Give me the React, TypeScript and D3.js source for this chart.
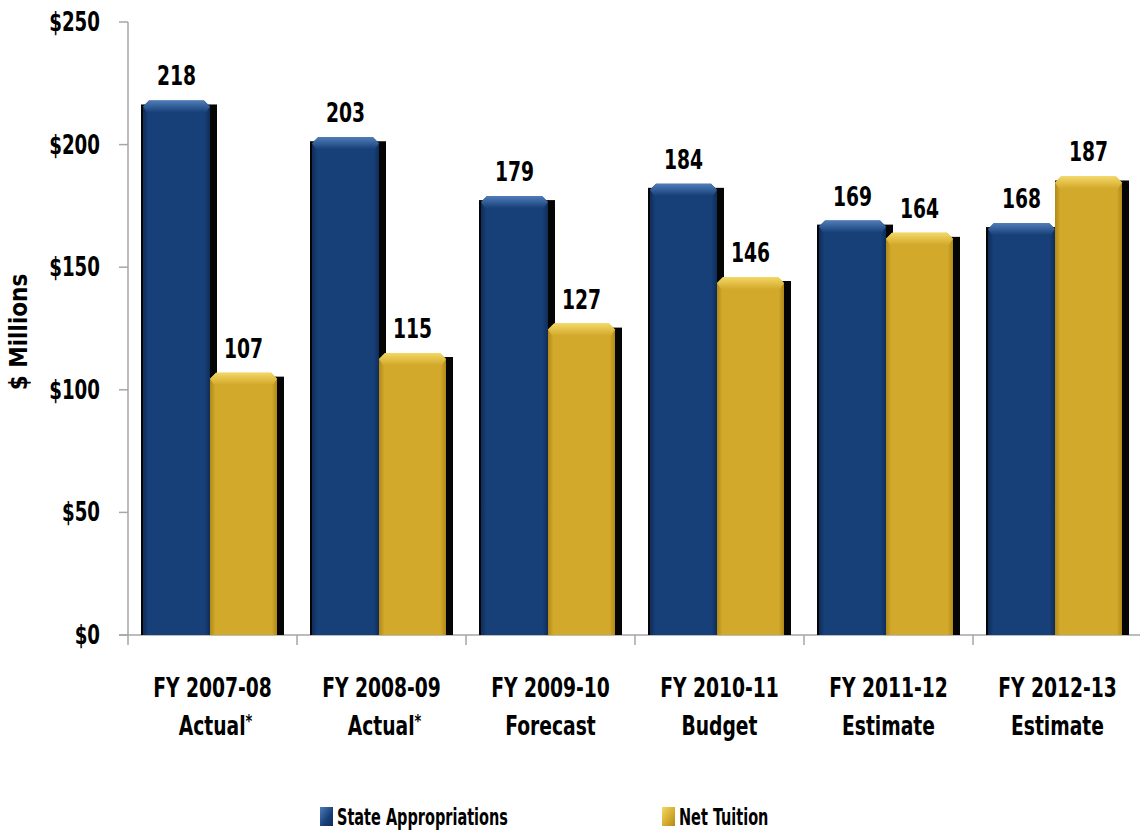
import React, { useRef, useEffect } from 'react';
import * as d3 from 'd3';

// categories (two-line labels)
const categoryTop = ['FY 2007-08', 'FY 2008-09', 'FY 2009-10', 'FY 2010-11', 'FY 2011-12', 'FY 2012-13'];
const categoryBottom = ['Actual', 'Actual', 'Forecast', 'Budget', 'Estimate', 'Estimate'];
const categoryStar = [true, true, false, false, false, false];

const seriesNames = ['State Appropriations', 'Net Tuition'];
const stateAppropriations = [218, 203, 179, 184, 169, 168];
const netTuition = [107, 115, 127, 146, 164, 187];

const yTicks = [0, 50, 100, 150, 200, 250];

const FONT = '"Liberation Sans Narrow", "Arial Narrow", "DejaVu Sans Condensed", sans-serif';

const palette = [
  { base: '#173f78', light: '#4f7db9', dark: '#0f2d58' },
  { base: '#d3a92b', light: '#f3d865', dark: '#b08a17' },
];

function App() {
  const svgRef = useRef<SVGSVGElement | null>(null);

  useEffect(() => {
    const width = 1140;
    const height = 840;
    const margin = { top: 22, right: 0, bottom: 205, left: 128 };

    const svg = d3.select(svgRef.current)
      .attr('width', width)
      .attr('height', height);
    svg.selectAll('*').remove();

    // squeezed bold text, the original font is very condensed
    const label = (parent: any, x: number, y: number, size: number, sx: number, anchor: string) =>
      parent.append('text')
        .attr('transform', `translate(${x},${y}) scale(${sx},1)`)
        .attr('text-anchor', anchor)
        .style('font-family', FONT).style('font-weight', 'bold').style('font-size', `${size}px`);

    const defs = svg.append('defs');
    palette.forEach((p, i) => {
      const g = defs.append('linearGradient').attr('id', `body${i}`)
        .attr('x1', 0).attr('x2', 1).attr('y1', 0).attr('y2', 0);
      g.append('stop').attr('offset', '0%').attr('stop-color', p.dark);
      g.append('stop').attr('offset', '8%').attr('stop-color', p.base);
      g.append('stop').attr('offset', '92%').attr('stop-color', p.base);
      g.append('stop').attr('offset', '100%').attr('stop-color', p.dark);
      const t = defs.append('linearGradient').attr('id', `top${i}`)
        .attr('x1', 0).attr('x2', 0).attr('y1', 0).attr('y2', 1);
      t.append('stop').attr('offset', '0%').attr('stop-color', p.light);
      t.append('stop').attr('offset', '100%').attr('stop-color', p.base);
      const l = defs.append('linearGradient').attr('id', `leg${i}`)
        .attr('x1', 0).attr('x2', 1).attr('y1', 0).attr('y2', 1);
      l.append('stop').attr('offset', '0%').attr('stop-color', p.light);
      l.append('stop').attr('offset', '60%').attr('stop-color', p.base);
      l.append('stop').attr('offset', '100%').attr('stop-color', p.dark);
    });

    const x0 = d3.scaleBand<string>()
      .domain(categoryTop)
      .range([margin.left, margin.left + 6 * 169])
      .paddingInner(0)
      .paddingOuter(0);

    const x1 = d3.scaleBand<string>()
      .domain(seriesNames)
      .range([15, 149]);

    const y = d3.scaleLinear()
      .domain([0, 250])
      .range([height - margin.bottom, margin.top]);

    const axisColor = '#a6a6a6';
    const base = y(0);

    // y axis
    svg.append('line')
      .attr('x1', margin.left).attr('x2', margin.left)
      .attr('y1', y(250)).attr('y2', base)
      .attr('stroke', axisColor).attr('stroke-width', 1.5);
    yTicks.forEach(t => {
      svg.append('line')
        .attr('x1', margin.left - 9).attr('x2', margin.left)
        .attr('y1', y(t)).attr('y2', y(t))
        .attr('stroke', axisColor).attr('stroke-width', 1.5);
      label(svg, margin.left - 28, y(t) + 9, 26, 0.78, 'end').text(`$${t}`);
    });

    svg.append('text')
      .attr('transform', `translate(27, ${332}) rotate(-90)`)
      .attr('text-anchor', 'middle')
      .style('font-family', FONT).style('font-weight', 'bold').style('font-size', '24px')
      .text('$ Millions');

    // x axis
    svg.append('line')
      .attr('x1', margin.left - 9).attr('x2', x0.range()[1])
      .attr('y1', base).attr('y2', base)
      .attr('stroke', axisColor).attr('stroke-width', 1.5);
    const bounds = categoryTop.map(c => x0(c) as number).concat([x0.range()[1]]);
    bounds.forEach(b => {
      svg.append('line')
        .attr('x1', b).attr('x2', b).attr('y1', base).attr('y2', base + 10)
        .attr('stroke', axisColor).attr('stroke-width', 1.5);
    });

    categoryTop.forEach((c, i) => {
      const cx = (x0(c) as number) + x0.bandwidth() / 2;
      label(svg, cx, 697, 26, 0.8, 'middle').text(c);
      const t2 = label(svg, cx + (categoryStar[i] ? 3 : 0), 735, 26, 0.8, 'middle');
      t2.append('tspan').text(categoryBottom[i]);
      if (categoryStar[i]) {
        t2.append('tspan').attr('dy', -8).style('font-size', '18px').text('*');
      }
    });

    // bars
    const series = [stateAppropriations, netTuition];
    const w = x1.bandwidth();
    series.forEach((vals, si) => {
      const g = svg.append('g');
      vals.forEach((v, ci) => {
        const x = (x0(categoryTop[ci]) as number) + (x1(seriesNames[si]) as number);
        const top = y(v);
        const h = base - top;
        // shadow / outline
        g.append('rect')
          .attr('x', x - (si === 0 ? 2 : 0)).attr('y', top + 4)
          .attr('width', w + 7 + (si === 0 ? 2 : 0)).attr('height', h - 4)
          .attr('fill', '#050505');
        const c = 6;
        g.append('path')
          .attr('d', `M${x},${base} L${x},${top + c} L${x + c},${top} L${x + w - c},${top} L${x + w},${top + c} L${x + w},${base} Z`)
          .attr('fill', `url(#body${si})`);
        g.append('path')
          .attr('d', `M${x},${top + c} L${x + c},${top} L${x + w - c},${top} L${x + w},${top + c} L${x + w - 4},${top + 12} L${x + 4},${top + 12} Z`)
          .attr('fill', `url(#top${si})`);
        label(g, x + w / 2, top - 15, 26, 0.8, 'middle').text(v);
      });
    });

    // legend
    const legendX = [320, 662];
    seriesNames.forEach((s, i) => {
      svg.append('rect')
        .attr('x', legendX[i]).attr('y', 807).attr('width', 13).attr('height', 19)
        .attr('fill', `url(#leg${i})`);
      label(svg, legendX[i] + 17, 825, 23, 0.7, 'start').text(s);
    });
  }, []);

  return (
    <div style={{ position: 'absolute', left: 0, top: 0 }}>
      <svg ref={svgRef}></svg>
    </div>
  );
}

export default App;
